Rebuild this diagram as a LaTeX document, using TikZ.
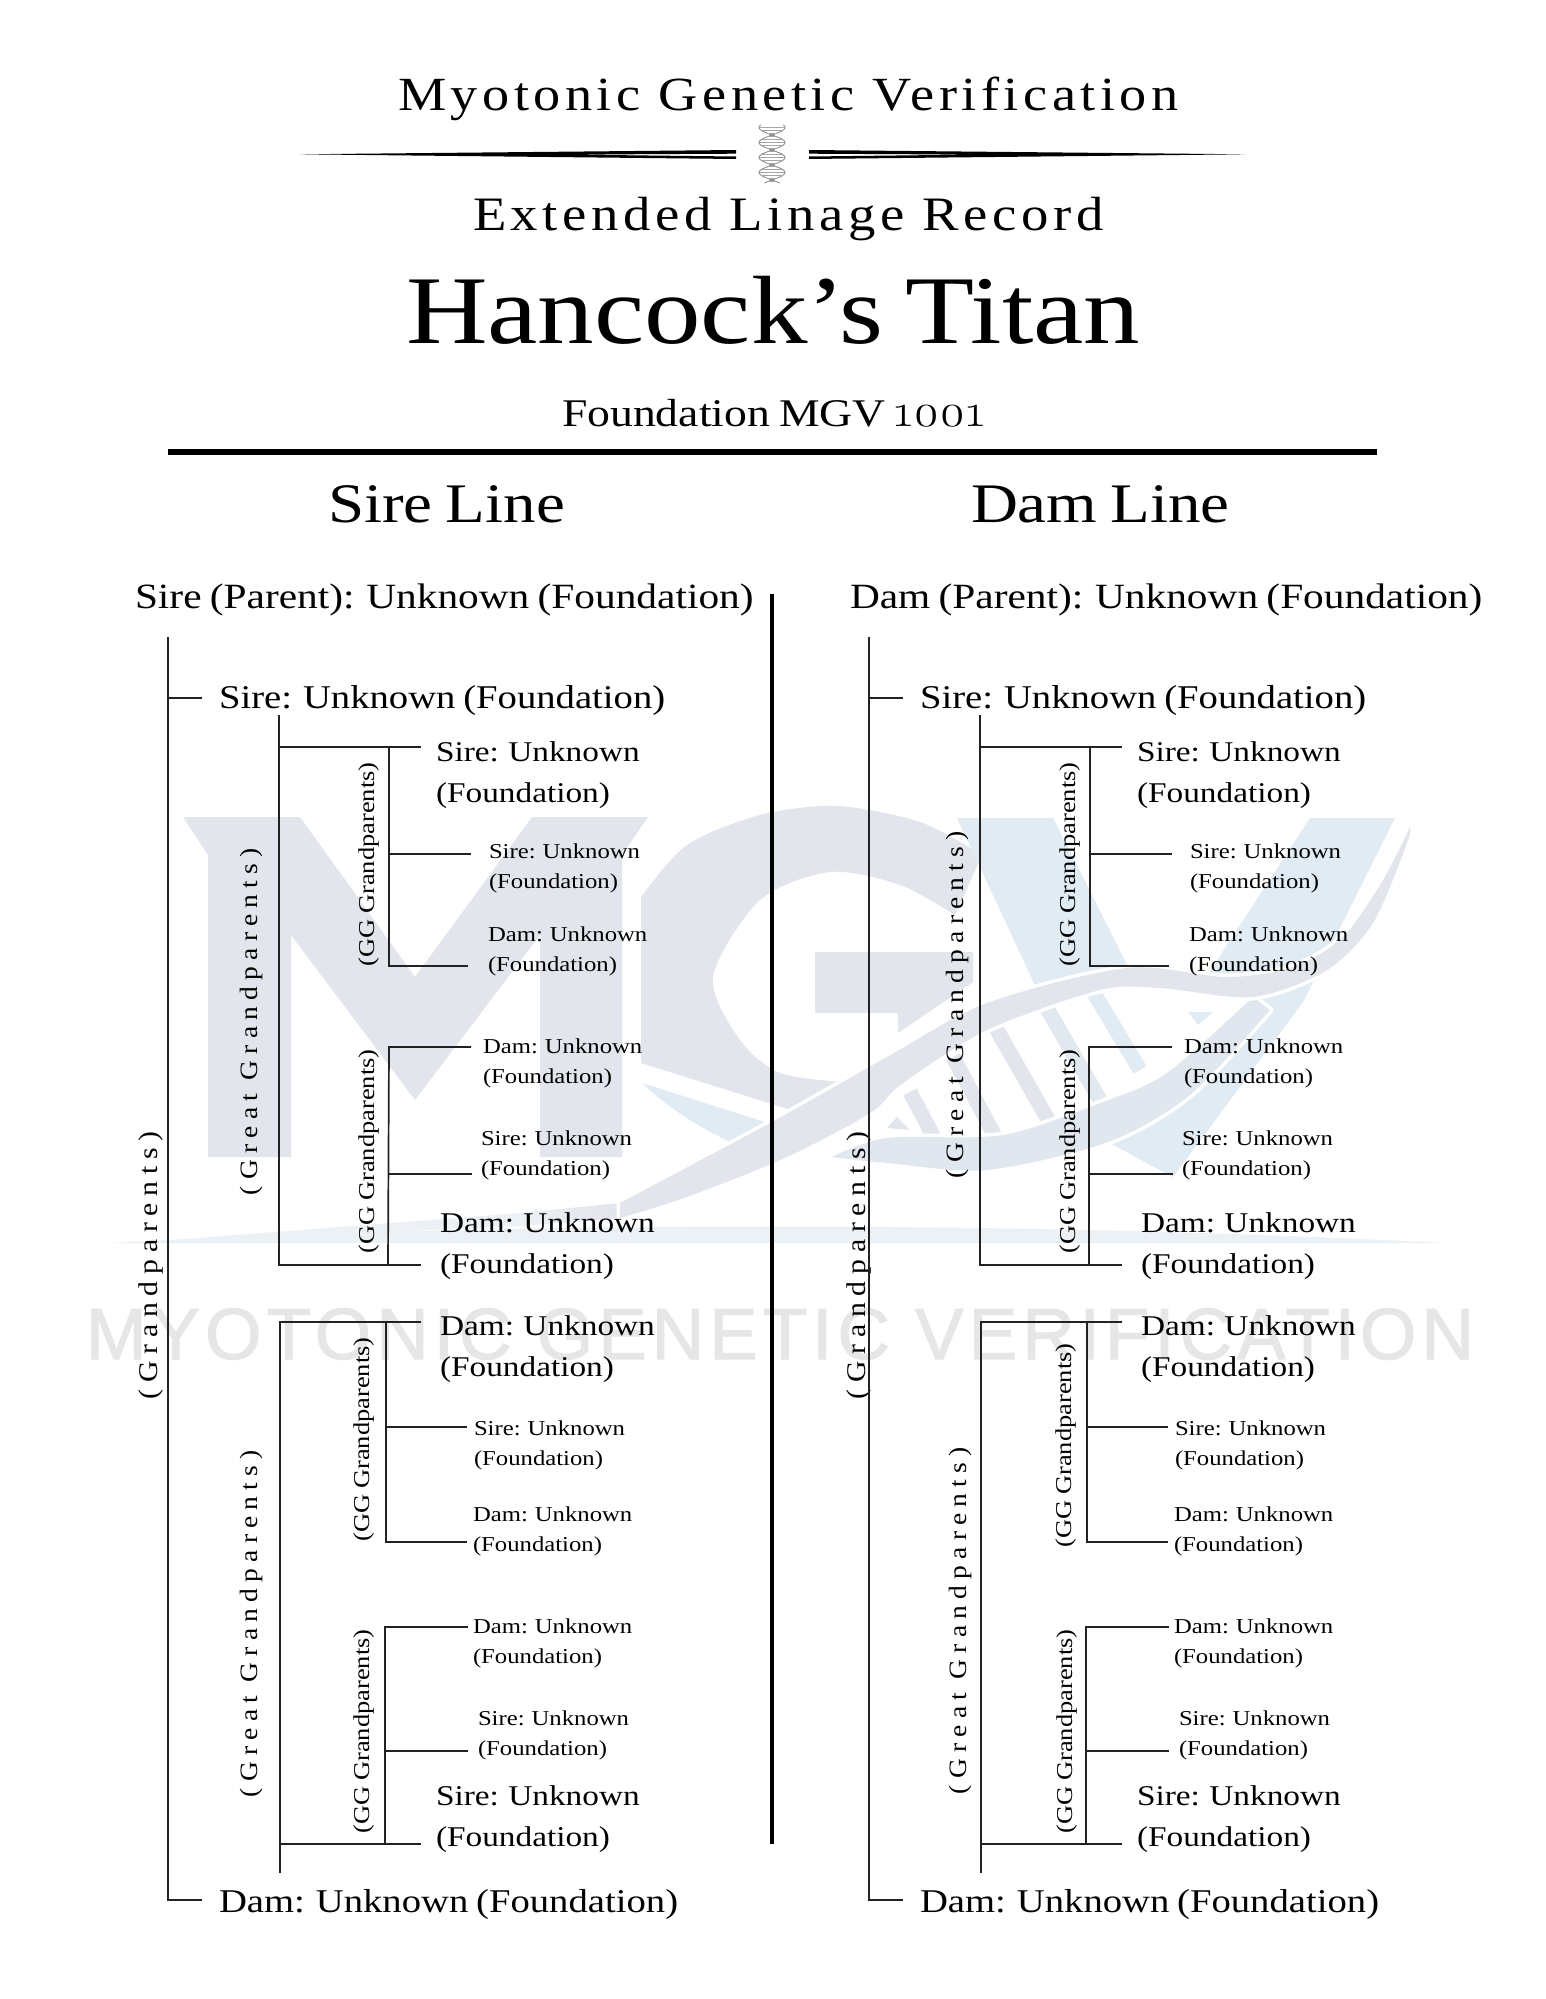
\documentclass[tikz,border=0pt]{standalone}
\usepackage{fontspec}
\setmainfont{Liberation Serif}
\newfontfamily\treefont[FakeStretch=1.165,WordSpace=0.8]{Liberation Serif}
\newfontfamily\headfont[FakeStretch=1.14,LetterSpace=9.5]{Liberation Serif}
\newfontfamily\spacedfont[FakeStretch=1.1,LetterSpace=25]{Liberation Serif}
\newfontfamily\oldfont[Numbers=OldStyle,FakeStretch=1.1]{Latin Modern Roman}
\newfontfamily\markfont[LetterSpace=7,FakeBold=1.5]{Liberation Sans}
\definecolor{wmgray}{HTML}{E2E5EB}
\definecolor{wmblue}{HTML}{E0EBF3}
\definecolor{wmband}{HTML}{ECF1F6}
\definecolor{wmtext}{HTML}{E6E6E6}
\definecolor{inkline}{HTML}{222222}
\tikzset{
  txt/.style={anchor=base west, inner sep=0pt, outer sep=0pt, align=left, text=black},
  headline/.style={txt, font=\headfont\fontsize{47.6}{56}\selectfont},
  subline/.style={txt, font=\headfont\fontsize{48}{56}\selectfont},
  titleline/.style={txt, font=\treefont\fontsize{97}{110}\selectfont},
  footline/.style={txt, font=\treefont\fontsize{39.2}{46}\selectfont},
  sideline/.style={txt, font=\treefont\fontsize{55.8}{62}\selectfont},
  parentline/.style={txt, font=\treefont\fontsize{35.5}{44}\selectfont},
  nameline/.style={txt, yshift=-1pt, font=\treefont\fontsize{33.2}{40}\selectfont},
  bigleaf/.style={txt, yshift=-1pt, font=\treefont\fontsize{28.6}{40.5}\selectfont},
  smallleaf/.style={txt, font=\treefont\fontsize{21.2}{30}\selectfont},
  gglabel/.style={txt, rotate=90, font=\treefont\fontsize{22.7}{26}\selectfont},
  gplabel/.style={txt, rotate=90, font=\spacedfont\fontsize{27}{32}\selectfont},
  greatlabel/.style={txt, rotate=90, font=\spacedfont\fontsize{25}{30}\selectfont},
  branch/.style={draw=inkline, line width=1.7pt},
  halo/.style={draw=white, line width=7pt, line join=round},
  rung/.style={line width=15pt, line cap=butt},
  helixline/.style={draw=gray, line width=0.8pt},
}
\begin{document}
\begin{tikzpicture}[x=1pt, y=-1pt]
    \useasboundingbox (0,0) rectangle (1545,1999);
    \fill [white] (0,0) rectangle (1545,1999);

    \fill [wmgray] (183,817) -- (300,817) -- (415,977) -- (532,817) -- (648,817) -- (622,855) -- (622,1157)
      -- (540,1157) -- (540,935) -- (415,1100) -- (291,935) -- (291,1157) -- (208,1157) -- (208,855) -- cycle;
    \fill [wmgray] (641,1063) -- (641,897) -- plot [smooth] coordinates {(641,897) (687,845) (760,815) (837,806) (920,822) (982,855)}
      -- (955,915) -- plot [smooth] coordinates {(955,915) (900,885) (830,872) (760,900) (713,977) (740,1040) (780,1073) (843,1082)}
      -- (807,1115) -- cycle;
    \fill [wmgray] (815,952) -- (973,952) -- (973,982) -- (898,1033) -- (898,1013) -- (815,1013) -- cycle;
    \fill [wmblue] (642,1083) -- (790,1130) -- (752,1151) .. controls (710,1135) and (670,1110) .. (642,1083);
    \fill [wmblue] (957,818) -- (1053,818) -- (1165,1040) -- (1310,818) -- (1395,818) -- (1303,1002) -- (1173,1177) -- (1108,1142) -- cycle;

    \fill [wmband] (110,1243) .. controls (500,1222) and (1000,1220) .. (1445,1243) -- cycle;
    \fill [wmband] (120,1244) -- (520,1213) -- (520,1226) -- cycle;
    \shade [left color=wmband, right color=wmgray] (520,1213) -- (620,1203) -- (620,1218) -- (520,1226) -- cycle;

    \path [fill=white, halo] plot [smooth] coordinates {(870,1130) (903,1083) (987,1030) (1120,990) (1253,997)}
      -- plot [smooth] coordinates {(1253,997) (1167,1073) (1103,1102) (1003,1135) (887,1138)} -- cycle;
    \draw [rung, wmgray] (910,1092) -- (937,1143);
    \draw [rung, wmgray] (953,1057) -- (997,1140);
    \draw [rung, wmgray] (993,1023) -- (1050,1123);
    \draw [rung, wmgray!50!wmblue] (1045,1005) -- (1100,1100);
    \draw [rung, wmblue] (1092,990) -- (1140,1070);
    \fill [wmblue] (1188,1012) -- (1213,1012) -- (1198,1025) -- cycle;
    \fill [wmgray] (897,1117) -- (887,1128) -- (910,1130) -- cycle;
    \path [fill=wmgray!60!wmblue, halo] plot [smooth] coordinates {(1253,997) (1167,1073) (1103,1102) (1003,1135) (887,1138) (832,1157)}
      -- plot [smooth] coordinates {(832,1157) (887,1163) (987,1170) (1108,1142) (1190,1095) (1270,1010)} -- cycle;
    \fill [wmgray!60!wmblue] plot [smooth] coordinates {(1253,997) (1167,1073) (1103,1102) (1003,1135) (887,1138) (832,1157)}
      -- plot [smooth] coordinates {(832,1157) (887,1163) (987,1170) (1108,1142) (1190,1095) (1270,1010)} -- cycle;
    \path [fill=wmgray, halo] plot [smooth] coordinates {(620,1203) (770,1123) (887,1057) (987,1003) (1127,968) (1227,977) (1293,967) (1343,937) (1383,880) (1410,827)}
      -- plot [smooth] coordinates {(1410,827) (1407,843) (1373,923) (1327,970) (1253,997) (1160,988) (1100,990) (987,1030) (903,1083) (870,1113) (787,1157) (687,1197) (620,1218)} -- cycle;
    \fill [wmgray] plot [smooth] coordinates {(620,1203) (770,1123) (887,1057) (987,1003) (1127,968) (1227,977) (1293,967) (1343,937) (1383,880) (1410,827)}
      -- plot [smooth] coordinates {(1410,827) (1407,843) (1373,923) (1327,970) (1253,997) (1160,988) (1100,990) (987,1030) (903,1083) (870,1113) (787,1157) (687,1197) (620,1218)} -- cycle;

    \node [txt, text=wmtext, font=\markfont\fontsize{72.6}{80}\selectfont] (WM) at (86,1359) {MYOTONIC GENETIC VERIFICATION};

    \node [headline] (H1) at (398,111) {Myotonic Genetic Verification};
    \fill (300,154.3) -- (736,150) -- (736,153.7) -- (570,154.6) -- (736,156.5) -- (736,159) -- cycle;
    \fill (1245,154.3) -- (809,150) -- (809,153.7) -- (975,154.6) -- (809,156.5) -- (809,159) -- cycle;
    \draw [helixline] plot [domain=125:183, samples=70, smooth] ({772+13*sin(\x*12)},\x);
    \draw [helixline] plot [domain=125:183, samples=70, smooth] ({772-13*sin(\x*12)},\x);
    \foreach \h in {127,130,...,181} {
      \draw [gray!70, line width=0.5pt] ({772+13*sin(\h*12)},\h) -- ({772-13*sin(\h*12)},\h);
    }
    \node [subline] (H2) at (473,230) {Extended Linage Record};
    \node [titleline] (H3) at (406,343) {Hancock’s Titan};
    \node [footline] (H4) at (562,426) {Foundation MGV {\oldfont\fontsize{46}{46}\selectfont 1001}};

    \coordinate (R1) at (168,452);
    \coordinate (R2) at (1377,452);
    \draw [black, line width=6pt] (R1) -- (R2);
    \coordinate (M1) at (772,594);
    \coordinate (M2) at (772,1844);
    \draw [black, line width=3.5pt] (M1) -- (M2);

    \node [sideline] (SL) at (328,522) {Sire Line};
    \node [sideline] (DL) at (971,522) {Dam Line};

    \node [parentline] (SP) at (135,608) {Sire (Parent): Unknown (Foundation)};
    \node [nameline] (S0) at (219,707) {Sire: Unknown (Foundation)};
    \node [nameline] (S00) at (219,1911) {Dam: Unknown (Foundation)};
    \node [bigleaf] (S1) at (436,801) {Sire: Unknown\\(Foundation)};
    \node [smallleaf] (S2) at (489,888) {Sire: Unknown\\(Foundation)};
    \node [smallleaf] (S3) at (488,971) {Dam: Unknown\\(Foundation)};
    \node [smallleaf] (S4) at (483,1083) {Dam: Unknown\\(Foundation)};
    \node [smallleaf] (S5) at (481,1175) {Sire: Unknown\\(Foundation)};
    \node [bigleaf] (S6) at (440,1272) {Dam: Unknown\\(Foundation)};
    \node [bigleaf] (S7) at (440,1375) {Dam: Unknown\\(Foundation)};
    \node [smallleaf] (S8) at (474,1465) {Sire: Unknown\\(Foundation)};
    \node [smallleaf] (S9) at (473,1551) {Dam: Unknown\\(Foundation)};
    \node [smallleaf] (S10) at (473,1663) {Dam: Unknown\\(Foundation)};
    \node [smallleaf] (S11) at (478,1755) {Sire: Unknown\\(Foundation)};
    \node [bigleaf] (S12) at (436,1845) {Sire: Unknown\\(Foundation)};

    \node [gplabel] (SGP) at (157,1399) {(Grandparents)};
    \node [greatlabel] (SGR1) at (257,1195) {(Great Grandparents)};
    \node [greatlabel] (SGR2) at (257,1797) {(Great Grandparents)};
    \node [gglabel] (SGG1) at (374,966) {(GG Grandparents)};
    \node [gglabel] (SGG2) at (374,1253) {(GG Grandparents)};
    \node [gglabel] (SGG3) at (369,1541) {(GG Grandparents)};
    \node [gglabel] (SGG4) at (369,1833) {(GG Grandparents)};

    \coordinate (SA1) at (168,637);
    \coordinate (SA2) at (168,1900);
    \coordinate (SA3) at (202,1900);
    \coordinate (SA4) at (168,698);
    \coordinate (SA5) at (202,698);
    \draw [branch] (SA1) -- (SA2) -- (SA3);
    \draw [branch] (SA4) -- (SA5);
    \coordinate (SB1) at (279,715);
    \coordinate (SB2) at (279,1265);
    \coordinate (SB3) at (421,1265);
    \coordinate (SB4) at (279,747);
    \coordinate (SB5) at (421,747);
    \draw [branch] (SB1) -- (SB2) -- (SB3);
    \draw [branch] (SB4) -- (SB5);
    \coordinate (SC1) at (389,747);
    \coordinate (SC2) at (389,966);
    \coordinate (SC3) at (468,966);
    \coordinate (SC4) at (389,854);
    \coordinate (SC5) at (471,854);
    \draw [branch] (SC1) -- (SC2) -- (SC3);
    \draw [branch] (SC4) -- (SC5);
    \coordinate (SD1) at (471,1047);
    \coordinate (SD2) at (389,1047);
    \coordinate (SD3) at (388,1265);
    \coordinate (SD4) at (389,1174);
    \coordinate (SD5) at (472,1174);
    \draw [branch] (SD1) -- (SD2) -- (SD3);
    \draw [branch] (SD4) -- (SD5);
    \coordinate (SE1) at (421,1322);
    \coordinate (SE2) at (280,1322);
    \coordinate (SE3) at (280,1873);
    \coordinate (SE4) at (280,1844);
    \coordinate (SE5) at (421,1844);
    \draw [branch] (SE1) -- (SE2) -- (SE3);
    \draw [branch] (SE4) -- (SE5);
    \coordinate (SF1) at (386,1322);
    \coordinate (SF2) at (386,1542);
    \coordinate (SF3) at (467,1542);
    \coordinate (SF4) at (386,1427);
    \coordinate (SF5) at (467,1427);
    \draw [branch] (SF1) -- (SF2) -- (SF3);
    \draw [branch] (SF4) -- (SF5);
    \coordinate (SG1) at (468,1627);
    \coordinate (SG2) at (385,1627);
    \coordinate (SG3) at (385,1844);
    \coordinate (SG4) at (385,1751);
    \coordinate (SG5) at (468,1751);
    \draw [branch] (SG1) -- (SG2) -- (SG3);
    \draw [branch] (SG4) -- (SG5);

    \node [parentline] (DP) at (850,608) {Dam (Parent): Unknown (Foundation)};
    \node [nameline] (D0) at (920,707) {Sire: Unknown (Foundation)};
    \node [nameline] (D00) at (920,1911) {Dam: Unknown (Foundation)};
    \node [bigleaf] (D1) at (1137,801) {Sire: Unknown\\(Foundation)};
    \node [smallleaf] (D2) at (1190,888) {Sire: Unknown\\(Foundation)};
    \node [smallleaf] (D3) at (1189,971) {Dam: Unknown\\(Foundation)};
    \node [smallleaf] (D4) at (1184,1083) {Dam: Unknown\\(Foundation)};
    \node [smallleaf] (D5) at (1182,1175) {Sire: Unknown\\(Foundation)};
    \node [bigleaf] (D6) at (1141,1272) {Dam: Unknown\\(Foundation)};
    \node [bigleaf] (D7) at (1141,1375) {Dam: Unknown\\(Foundation)};
    \node [smallleaf] (D8) at (1175,1465) {Sire: Unknown\\(Foundation)};
    \node [smallleaf] (D9) at (1174,1551) {Dam: Unknown\\(Foundation)};
    \node [smallleaf] (D10) at (1174,1663) {Dam: Unknown\\(Foundation)};
    \node [smallleaf] (D11) at (1179,1755) {Sire: Unknown\\(Foundation)};
    \node [bigleaf] (D12) at (1137,1845) {Sire: Unknown\\(Foundation)};

    \node [gplabel] (DGP) at (865,1399) {(Grandparents)};
    \node [greatlabel] (DGR1) at (963,1178) {(Great Grandparents)};
    \node [greatlabel] (DGR2) at (966,1794) {(Great Grandparents)};
    \node [gglabel] (DGG1) at (1075,966) {(GG Grandparents)};
    \node [gglabel] (DGG2) at (1075,1253) {(GG Grandparents)};
    \node [gglabel] (DGG3) at (1071,1547) {(GG Grandparents)};
    \node [gglabel] (DGG4) at (1072,1833) {(GG Grandparents)};

    \coordinate (DA1) at (869,637);
    \coordinate (DA2) at (869,1900);
    \coordinate (DA3) at (903,1900);
    \coordinate (DA4) at (869,698);
    \coordinate (DA5) at (903,698);
    \draw [branch] (DA1) -- (DA2) -- (DA3);
    \draw [branch] (DA4) -- (DA5);
    \coordinate (DB1) at (980,715);
    \coordinate (DB2) at (980,1265);
    \coordinate (DB3) at (1122,1265);
    \coordinate (DB4) at (980,747);
    \coordinate (DB5) at (1122,747);
    \draw [branch] (DB1) -- (DB2) -- (DB3);
    \draw [branch] (DB4) -- (DB5);
    \coordinate (DC1) at (1090,747);
    \coordinate (DC2) at (1090,966);
    \coordinate (DC3) at (1169,966);
    \coordinate (DC4) at (1090,854);
    \coordinate (DC5) at (1172,854);
    \draw [branch] (DC1) -- (DC2) -- (DC3);
    \draw [branch] (DC4) -- (DC5);
    \coordinate (DD1) at (1172,1047);
    \coordinate (DD2) at (1089,1047);
    \coordinate (DD3) at (1089,1265);
    \coordinate (DD4) at (1089,1174);
    \coordinate (DD5) at (1173,1174);
    \draw [branch] (DD1) -- (DD2) -- (DD3);
    \draw [branch] (DD4) -- (DD5);
    \coordinate (DE1) at (1122,1322);
    \coordinate (DE2) at (981,1322);
    \coordinate (DE3) at (981,1873);
    \coordinate (DE4) at (981,1844);
    \coordinate (DE5) at (1122,1844);
    \draw [branch] (DE1) -- (DE2) -- (DE3);
    \draw [branch] (DE4) -- (DE5);
    \coordinate (DF1) at (1087,1322);
    \coordinate (DF2) at (1087,1542);
    \coordinate (DF3) at (1168,1542);
    \coordinate (DF4) at (1087,1427);
    \coordinate (DF5) at (1168,1427);
    \draw [branch] (DF1) -- (DF2) -- (DF3);
    \draw [branch] (DF4) -- (DF5);
    \coordinate (DG1) at (1169,1627);
    \coordinate (DG2) at (1086,1627);
    \coordinate (DG3) at (1086,1844);
    \coordinate (DG4) at (1086,1751);
    \coordinate (DG5) at (1169,1751);
    \draw [branch] (DG1) -- (DG2) -- (DG3);
    \draw [branch] (DG4) -- (DG5);
  \end{tikzpicture}
\end{document}
